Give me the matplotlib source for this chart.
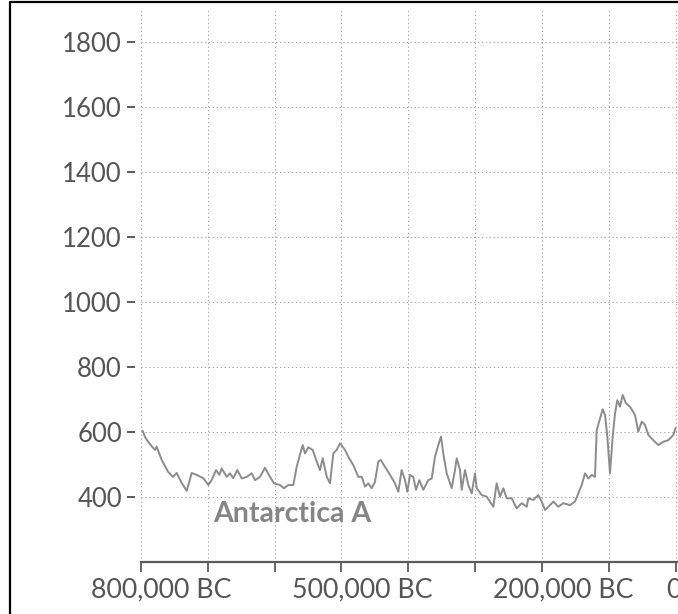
import numpy as np
import matplotlib.pyplot as plt
import matplotlib.transforms as mtransforms
from matplotlib.lines import Line2D

# methane record, age in thousands of years before present, ppb
age_ka = [797.0, 793.6, 790.6, 783.1, 778.6, 776.1, 768.6, 759.2, 751.7, 746.2,
          738.7, 731.2, 723.8, 716.3, 706.4, 698.9, 693.9, 687.4, 682.5, 678.9,
          671.4, 666.5, 661.6, 655.6, 649.0, 641.5, 634.1, 629.1, 621.7, 614.2,
          606.7, 600.7, 591.8, 585.8, 579.4, 571.9, 566.8, 560.8, 557.8, 554.4,
          549.5, 542.9, 536.9, 532.0, 527.9, 521.9, 517.0, 512.1, 507.0, 502.1,
          494.6, 489.7, 482.2, 474.7, 469.6, 464.7, 459.8, 454.7, 449.8, 444.8,
          441.2, 434.8, 427.3, 419.9, 414.9, 409.9, 404.9, 401.5, 397.4, 392.5,
          388.5, 383.5, 377.6, 370.1, 365.0, 360.1, 355.1, 351.1, 347.7, 342.6,
          335.1, 330.2, 327.6, 322.7, 320.2, 315.2, 310.3, 305.2, 300.3, 297.7,
          290.3, 282.8, 272.9, 267.9, 262.9, 258.0, 252.9, 245.4, 238.0, 230.5,
          223.0, 220.6, 213.1, 205.7, 200.6, 195.6, 188.2, 183.2, 175.8, 168.3,
          158.3, 150.8, 145.9, 140.8, 135.8, 130.9, 125.8, 120.9, 118.4, 113.4,
          109.4, 105.9, 102.5, 98.5, 94.5, 91.0, 87.6, 83.5, 79.5, 74.6,
          68.6, 61.1, 56.2, 51.1, 46.2, 41.2, 33.8, 26.3, 18.8, 11.3,
          3.8, 0.5]
ch4_ppb = [603, 585, 575, 555, 545, 555, 514, 478, 462, 474,
           443, 419, 474, 468, 458, 437, 452, 483, 468, 488,
           462, 473, 458, 483, 457, 462, 473, 452, 462, 490,
           462, 442, 437, 427, 437, 437, 493, 539, 560, 534,
           553, 545, 509, 483, 519, 462, 442, 534, 545, 565,
           545, 524, 498, 462, 462, 432, 442, 427, 447, 509,
           514, 493, 468, 442, 416, 483, 452, 416, 468, 462,
           422, 452, 422, 452, 457, 524, 560, 586, 534, 473,
           427, 483, 519, 483, 422, 483, 437, 411, 473, 427,
           406, 401, 370, 442, 401, 427, 396, 396, 365, 381,
           370, 396, 391, 406, 386, 360, 375, 386, 370, 381,
           375, 386, 411, 437, 473, 457, 468, 462, 606, 642,
           670, 652, 586, 473, 586, 657, 698, 678, 714, 688,
           678, 652, 601, 632, 622, 591, 575, 560, 570, 575,
           591, 612]

tick_years = np.arange(-800000, 1, 100000)
label_years = [-800000, -500000, -200000, 0]
label_text = ["800,000 BC", "500,000 BC", "200,000 BC", "0 AD"]
y_ticks = np.arange(400, 1801, 200)

years = -np.array(age_ka) * 1000

plt.rcParams['font.family'] = ['Lato', 'DejaVu Sans']

fig = plt.figure(figsize=(6.78, 6.14), dpi=100)
ax = fig.add_axes([140.7 / 678, 52 / 614, 568.65 / 678, 554 / 614])

ax.plot(years, ch4_ppb, color='#8c8c8c', lw=1.4, zorder=3)

ax.set_xlim(-800000, 50000)
ax.set_ylim(200, 1905)

ax.set_xticks(tick_years)
ax.set_xticklabels([label_text[label_years.index(t)] if t in label_years else ""
                    for t in tick_years])
ax.set_yticks(y_ticks)

grid_style = dict(color='#a8a8a8', lw=0.75, linestyle=(0, (1.3, 2.5)))
ax.grid(True, **grid_style)
ax.set_axisbelow(True)

for side in ['top', 'right']:
    ax.spines[side].set_visible(False)
ax.spines['left'].set_position(('outward', 4.1))
ax.spines['left'].set_visible(False)
ax.spines['bottom'].set_color('#5a5a5a')
ax.spines['bottom'].set_linewidth(1.6)

ax.tick_params(axis='y', length=5.8, width=1.4, color='#5a5a5a', pad=3.6,
               labelsize=18.5, labelcolor='#555555')
ax.tick_params(axis='x', length=7.2, width=1.3, color='#5a5a5a', pad=4,
               labelsize=19.3, labelcolor='#555555')

# shift the year labels a little to the right of their ticks
shift = mtransforms.ScaledTranslation(0.21, 0, fig.dpi_scale_trans)
for lab in ax.get_xticklabels():
    lab.set_transform(lab.get_transform() + shift)

ax.text(-692000, 323, "Antarctica A", color='#858585', fontsize=20.5,
        fontweight='bold', ha='left', va='baseline')

# black frame along the left and top edges
fig.add_artist(Line2D([10 / 678, 10 / 678, 1.0], [0.0, 1 - 2 / 614, 1 - 2 / 614],
                      transform=fig.transFigure, color='black', lw=1.6))

fig.savefig("out.png", dpi=100)
